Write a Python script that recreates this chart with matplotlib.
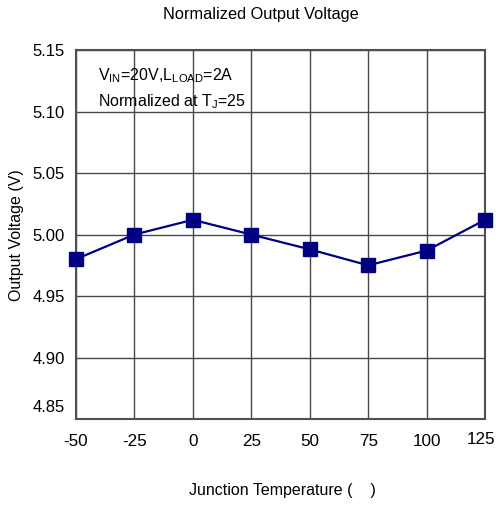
import numpy as np
import matplotlib
matplotlib.use('Agg')
import matplotlib.pyplot as plt
from matplotlib.transforms import ScaledTranslation

plt.rcParams['font.family'] = ['Liberation Sans', 'DejaVu Sans']
plt.rcParams['mathtext.fontset'] = 'custom'
plt.rcParams['mathtext.rm'] = 'Liberation Sans'
plt.rcParams['mathtext.it'] = 'Liberation Sans:italic'
plt.rcParams['axes.unicode_minus'] = False

# data
temps = [-50, -25, 0, 25, 50, 75, 100, 125]
vout = [4.980, 5.000, 5.012, 5.000, 4.988, 4.975, 4.987, 5.012]
yticks = [4.85, 4.90, 4.95, 5.00, 5.05, 5.10, 5.15]

fig = plt.figure(figsize=(4.96, 5.05), dpi=100)
ax = fig.add_axes([0.153, 0.170, 0.825, 0.731])

ax.plot(temps, vout, color='#000080', lw=1.6, marker='s', markersize=9.5, zorder=3, clip_on=False)

ax.set_xlim(-50, 125)
ax.set_ylim(4.85, 5.15)
ax.set_xticks(temps)
ax.set_yticks(yticks)
ax.set_yticklabels([f'{v:.2f}' for v in yticks])
ax.grid(True, color='#484848', lw=1.0)
ax.tick_params(axis='x', length=0, labelsize=12.3, pad=11)
ax.tick_params(axis='y', length=0, labelsize=12, pad=8)
for s in ax.spines.values():
    s.set_color('#505050')
    s.set_linewidth(1.5)

# the bottom tick label sits a bit higher in the original
lbl = ax.get_yticklabels()[0]
lbl.set_transform(lbl.get_transform() + ScaledTranslation(0, 13 / 100, fig.dpi_scale_trans))
# last x label is pulled in from the edge
xl = ax.get_xticklabels()[-1]
xl.set_transform(xl.get_transform() + ScaledTranslation(-4 / 100, 2 / 100, fig.dpi_scale_trans))

ax.text(0.055, 0.955, r'V$_{\mathrm{IN}}$=20V,L$_{\mathrm{LOAD}}$=2A', transform=ax.transAxes,
        fontsize=11.5, va='top')
ax.text(0.055, 0.885, r'Normalized at T$_{\mathrm{J}}$=25', transform=ax.transAxes,
        fontsize=11.5, va='top')

fig.text(261 / 496, 1 - 15 / 505, 'Normalized Output Voltage', ha='center', va='center', fontsize=11.8)
fig.text(282 / 496, 1 - 491 / 505, 'Junction Temperature (    )', ha='center', va='center', fontsize=11.5)
fig.text(17 / 496, 1 - 235 / 505, 'Output Voltage (V)', ha='center', va='center', rotation=90, fontsize=11.5)

fig.savefig('out.png', dpi=100)
